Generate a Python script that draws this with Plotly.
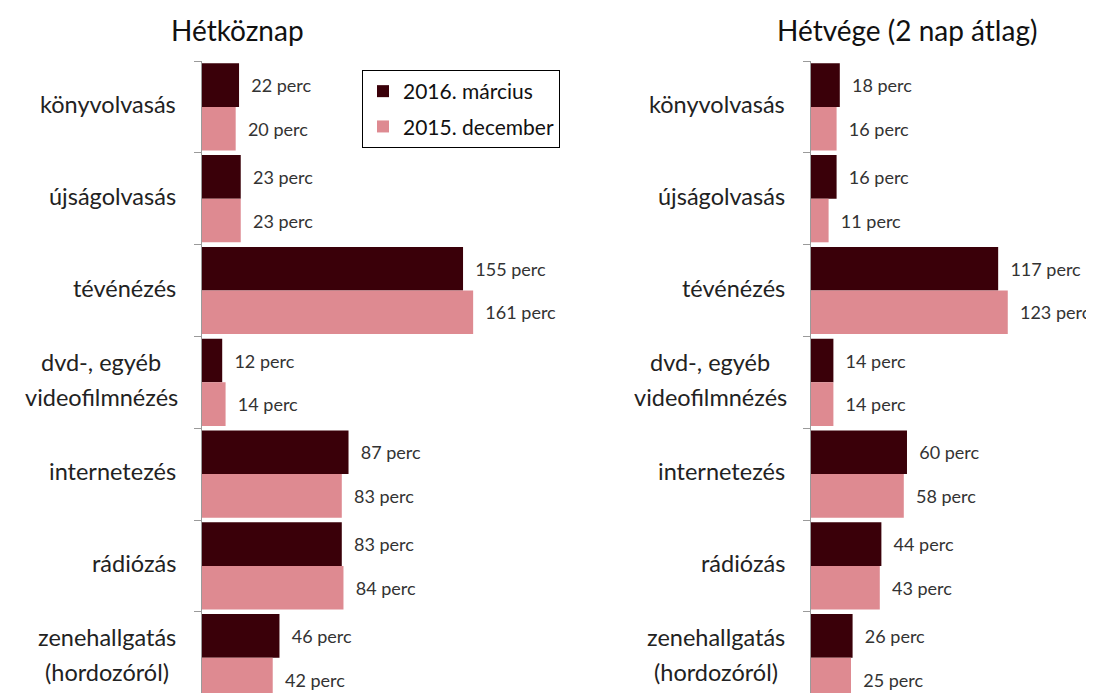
import plotly.graph_objects as go
from plotly.subplots import make_subplots

categories = ["könyvolvasás", "újságolvasás", "tévénézés",
              "dvd-, egyéb<br>videofilmnézés", "internetezés", "rádiózás",
              "zenehallgatás<br>(hordozóról)"]
weekday_2016_mar = [22, 23, 155, 12, 87, 83, 46]
weekday_2015_dec = [20, 23, 161, 14, 83, 84, 42]
weekend_2016_mar = [18, 16, 117, 14, 60, 44, 26]
weekend_2015_dec = [16, 11, 123, 14, 58, 43, 25]
series_names = ["2016. március", "2015. december"]
panel_titles = ["Hétköznap", "Hétvége (2 nap átlag)"]

DARK = "#3a0009"
PINK = "#de8a91"
FONT = "Lato"
W, H = 1094, 693
TOP = 53          # plot area top (page has an 8px body margin)
PH = H - TOP      # plot area height
LINE = 35         # line spacing of two-line category labels
CHAR_W = 11.0     # rough glyph width of the category font, for centring lines


def py(p):
    # pixel row on the canvas -> paper y
    return (H - p) / PH


fig = make_subplots(rows=1, cols=2, horizontal_spacing=0.0)

panels = [(weekday_2016_mar, weekday_2015_dec), (weekend_2016_mar, weekend_2015_dec)]
for col, (a, b) in enumerate(panels, start=1):
    for vals, name, color in [(a, series_names[0], DARK), (b, series_names[1], PINK)]:
        fig.add_trace(go.Bar(
            x=vals, y=categories, orientation="h", name=name, legendgroup=name,
            marker=dict(color=color, line=dict(width=0)),
            text=[f"&nbsp;&nbsp;{v} perc" for v in vals],
            textposition="outside", cliponaxis=False,
            textfont=dict(family=FONT, size=18, color="#333333"),
            showlegend=(col == 1)), row=1, col=col)
    sfx = "" if col == 1 else str(col)
    for cat in categories:
        lines = cat.split("<br>")
        n = len(lines)
        if n == 1:
            fig.add_annotation(x=0, y=cat, xref="x" + sfx, yref="y" + sfx, text=cat,
                               showarrow=False, xanchor="right", xshift=-24, yshift=3,
                               font=dict(family=FONT, size=23.5, color="#222222"))
            continue
        wmax = max(len(s) for s in lines) * CHAR_W
        for i, line in enumerate(lines):
            fig.add_annotation(x=0, y=cat, xref="x" + sfx, yref="y" + sfx, text=line,
                               showarrow=False, xanchor="center",
                               xshift=-24 - wmax / 2,
                               yshift=3 + ((n - 1) / 2 - i) * LINE,
                               font=dict(family=FONT, size=23.5, color="#222222"))

fig.update_xaxes(visible=False, showgrid=False, zeroline=False)
fig.update_layout(
    xaxis=dict(domain=[194 / W, 547 / W], range=[0, 209.6]),
    xaxis2=dict(domain=[803 / W, 1.0], range=[0, 181.9]),
)
fig.update_yaxes(range=[-0.5 + PH / 91.8, -0.5], showticklabels=False, showgrid=False,
                 showline=True, linecolor="#9a9a9a", linewidth=1,
                 ticks="outside", tickson="boundaries", ticklen=7,
                 tickcolor="#9a9a9a", zeroline=False)

for title, xc in zip(panel_titles, [229, 899]):
    fig.add_annotation(x=xc / W, y=py(22), xref="paper", yref="paper",
                       text=title, showarrow=False, xanchor="center", yanchor="middle",
                       font=dict(family=FONT, size=28, color="#111111"))

fig.update_layout(
    width=W, height=H,
    margin=dict(l=0, r=0, t=TOP, b=0),
    paper_bgcolor="white", plot_bgcolor="white",
    barmode="group", bargap=0.05, bargroupgap=0.0,
    font=dict(family=FONT),
    legend=dict(x=354 / W, y=py(62), xanchor="left", yanchor="top",
                bordercolor="#000000", borderwidth=1, bgcolor="white",
                font=dict(family=FONT, size=21, color="#111111"),
                tracegroupgap=5),
)

fig.write_html("out.html")
